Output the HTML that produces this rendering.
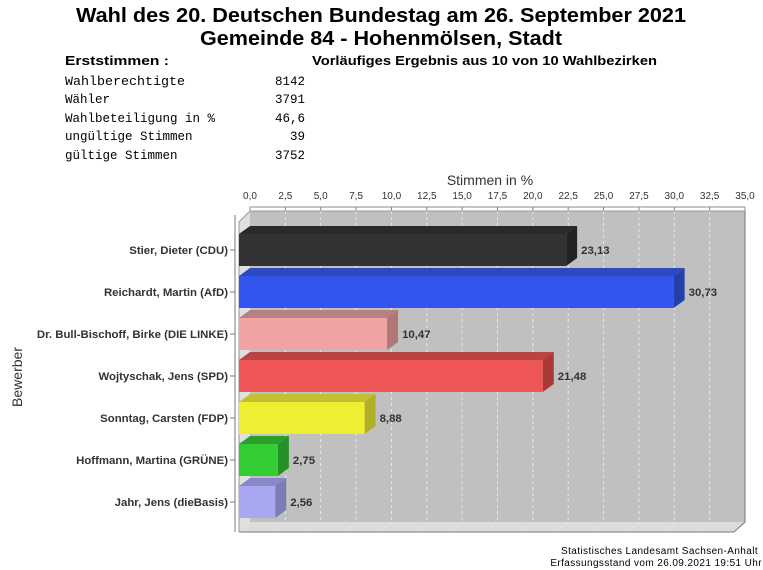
<!DOCTYPE html>
<html><head><meta charset="utf-8"><style>
body{margin:0;background:#fff;}
svg{display:block;font-family:"Liberation Sans",sans-serif;}
.m{font-family:"Liberation Mono",monospace;font-size:12.5px;fill:#000;}
</style></head><body>
<svg width="763" height="570" viewBox="0 0 763 570">
<text x="381" y="22" text-anchor="middle" font-size="20" font-weight="bold" textLength="610" lengthAdjust="spacingAndGlyphs">Wahl des 20. Deutschen Bundestag am 26. September 2021</text>
<text x="381" y="45" text-anchor="middle" font-size="20" font-weight="bold" textLength="362" lengthAdjust="spacingAndGlyphs">Gemeinde 84 - Hohenmölsen, Stadt</text>
<text x="65" y="65" font-size="13" font-weight="bold" textLength="104" lengthAdjust="spacingAndGlyphs">Erststimmen  :</text>
<text x="312" y="65" font-size="13" font-weight="bold" textLength="345" lengthAdjust="spacingAndGlyphs">Vorläufiges Ergebnis aus 10 von 10 Wahlbezirken</text>
<g class="m">
<text x="65" y="85" textLength="120" lengthAdjust="spacingAndGlyphs">Wahlberechtigte</text><text x="305" y="85" text-anchor="end">8142</text>
<text x="65" y="103">Wähler</text><text x="305" y="103" text-anchor="end">3791</text>
<text x="65" y="122">Wahlbeteiligung in %</text><text x="305" y="122" text-anchor="end">46,6</text>
<text x="65" y="140">ungültige Stimmen</text><text x="305" y="140" text-anchor="end">39</text>
<text x="65" y="159">gültige Stimmen</text><text x="305" y="159" text-anchor="end">3752</text>
</g>
<text x="490" y="185" text-anchor="middle" font-size="14" fill="#333">Stimmen in %</text>
<g font-size="10" fill="#333" text-anchor="middle" id="tk"></g>
<line x1="250" y1="207" x2="745" y2="207" stroke="#888"/>
<g stroke="#888" id="tl"></g>
<polygon points="250,211 745,211 745,522 250,522" fill="#c0c0c0"/>
<polygon points="239,222 250,211 250,522 239,532" fill="#e0e0e0"/>
<polygon points="239,532 250,522 745,522 734,532" fill="#dcdcdc"/>
<g id="grid" stroke="#e8e8e8" stroke-dasharray="3,3"></g>
<polyline points="239,532 734,532 745,522 745,211" fill="none" stroke="#777"/>
<polyline points="239,532 239,222 250,211 745,211" fill="none" stroke="#999"/>
<line x1="235" y1="215" x2="235" y2="532" stroke="#777"/>
<g id="bars"></g>
<text transform="translate(22,377) rotate(-90)" text-anchor="middle" font-size="14" fill="#333">Bewerber</text>
<text x="758" y="554" text-anchor="end" font-size="10" letter-spacing="0.4">Statistisches Landesamt Sachsen-Anhalt</text>
<text x="762" y="566" text-anchor="end" font-size="10" letter-spacing="0.4">Erfassungsstand vom 26.09.2021 19:51 Uhr</text>
<script>
var ns="http://www.w3.org/2000/svg";
function el(p,t,a,txt){var e=document.createElementNS(ns,t);for(var k in a)e.setAttribute(k,a[k]);if(txt!=null)e.textContent=txt;document.getElementById(p).appendChild(e);}
var s=495/35;
for(var i=0;i<=14;i++){var v=i*2.5,x=250+v*s;el('tk','text',{x:x,y:199},v.toFixed(1).replace('.',','));el('tl','line',{x1:x,y1:207,x2:x,y2:211});
if(i>0&&i<14){el('grid','line',{x1:x,y1:211,x2:x,y2:522});el('grid','line',{x1:x,y1:522,x2:x-11,y2:532});}}
var d=[["Stier, Dieter (CDU)",23.13,"#333333","#2a2a2a","#222"],
["Reichardt, Martin (AfD)",30.73,"#3355ee","#2d49c0","#2440a8"],
["Dr. Bull-Bischoff, Birke (DIE LINKE)",10.47,"#f0a3a3","#b88080","#b07777"],
["Wojtyschak, Jens (SPD)",21.48,"#ee5555","#b84444","#aa3a3a"],
["Sonntag, Carsten (FDP)",8.88,"#eeee33","#c0c030","#b0b028"],
["Hoffmann, Martina (GRÜNE)",2.75,"#33cc33","#2aa02a","#259025"],
["Jahr, Jens (dieBasis)",2.56,"#a8a8f0","#8888c8","#7c7cb8"]];
d.forEach(function(r,i){var y=234+42*i,h=32,x0=239,x1=239+r[1]*s,dx=11,dy=8;
el('bars','polygon',{points:x0+","+y+" "+(x0+dx)+","+(y-dy)+" "+(x1+dx)+","+(y-dy)+" "+x1+","+y,fill:r[3]});
el('bars','polygon',{points:x1+","+y+" "+(x1+dx)+","+(y-dy)+" "+(x1+dx)+","+(y+h-dy)+" "+x1+","+(y+h),fill:r[4]});
el('bars','rect',{x:x0,y:y,width:x1-x0,height:h,fill:r[2]});
el('bars','text',{x:x1+dx+4,y:y+h/2+4,"font-size":11.4,"font-weight":"bold",fill:"#333"},r[1].toFixed(2).replace('.',','));
el('bars','text',{x:228,y:y+h/2+4,"font-size":11.4,"font-weight":"bold",fill:"#333","text-anchor":"end"},r[0]);
el('bars','line',{x1:230,y1:y+h/2,x2:235,y2:y+h/2,stroke:"#777"});});
</script>
</svg>
</body></html>
